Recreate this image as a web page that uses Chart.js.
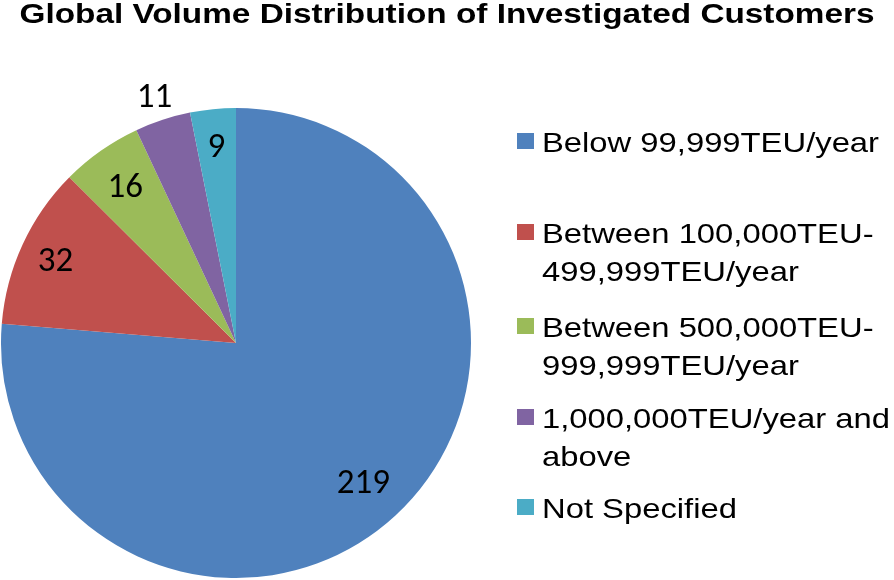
<!DOCTYPE html>
<html><head><meta charset="utf-8">
<script src="https://cdn.jsdelivr.net/npm/chart.js@4"></script>
<style>html,body{margin:0;padding:0;background:#fff}#wrap{width:894px;height:580px;position:relative}</style>
</head><body><div id="wrap"><canvas id="c" width="894" height="580"></canvas></div>
<script>
const title = "Global Volume Distribution of Investigated Customers";
const categories = [
  ["Below 99,999TEU/year"],
  ["Between 100,000TEU-", "499,999TEU/year"],
  ["Between 500,000TEU-", "999,999TEU/year"],
  ["1,000,000TEU/year and", "above"],
  ["Not Specified"]
];
const values = [219, 32, 16, 11, 9];
const colors = ["#4F81BD", "#C0504D", "#9BBB59", "#8064A2", "#4BACC6"];
const labelRadius = [0.80, 0.846, 0.82, 1.11, 0.845];
const legendBaseline = [152, 243, 337, 428, 518];

const drawPlugin = {
  id: 'custom',
  afterDraw(chart) {
    const ctx = chart.ctx;
    ctx.save();
    // title (horizontally stretched like the reference)
    ctx.fillStyle = '#000';
    ctx.font = 'bold 27px "Liberation Sans", Arial, sans-serif';
    ctx.textBaseline = 'alphabetic';
    ctx.textAlign = 'left';
    const tw = ctx.measureText(title).width;
    const targetW = 855;
    ctx.save();
    ctx.translate(447 - targetW / 2, 23);
    ctx.scale(targetW / tw, 1);
    ctx.fillText(title, 0, 0);
    ctx.restore();
    // data labels
    const meta = chart.getDatasetMeta(0);
    ctx.font = '35px Carlito, "Open Sans", "Noto Sans", sans-serif';
    ctx.textAlign = 'center';
    meta.data.forEach((arc, i) => {
      const p = arc.getProps(['x','y','startAngle','endAngle','outerRadius'], true);
      const mid = (p.startAngle + p.endAngle) / 2;
      const r = p.outerRadius * labelRadius[i];
      const txt = String(values[i]);
      const m = ctx.measureText(txt);
      const cx = p.x + Math.cos(mid) * r;
      const cy = p.y + Math.sin(mid) * r;
      ctx.fillText(txt, cx, cy + m.actualBoundingBoxAscent / 2);
    });
    // legend (horizontally stretched text)
    ctx.textAlign = 'left';
    ctx.font = '28px "Liberation Sans", Arial, sans-serif';
    const sx = 337 / ctx.measureText(categories[0][0]).width;
    categories.forEach((lines, i) => {
      const b = legendBaseline[i];
      ctx.fillStyle = colors[i];
      ctx.fillRect(517, b - 19, 17, 16);
      ctx.fillStyle = '#000';
      lines.forEach((ln, j) => {
        ctx.save();
        ctx.translate(542, b + j * 38);
        ctx.scale(sx, 1);
        ctx.fillText(ln, 0, 0);
        ctx.restore();
      });
    });
    ctx.restore();
  }
};

new Chart(document.getElementById('c'), {
  type: 'pie',
  data: {
    labels: categories.map(l => l.join(' ')),
    datasets: [{ data: values, backgroundColor: colors, borderWidth: 0 }]
  },
  options: {
    responsive: false,
    animation: false,
    layout: { padding: { left: 1, right: 423, top: 108, bottom: 2 } },
    plugins: { legend: { display: false }, title: { display: false }, tooltip: { enabled: false } }
  },
  plugins: [drawPlugin]
});
</script></body></html>
